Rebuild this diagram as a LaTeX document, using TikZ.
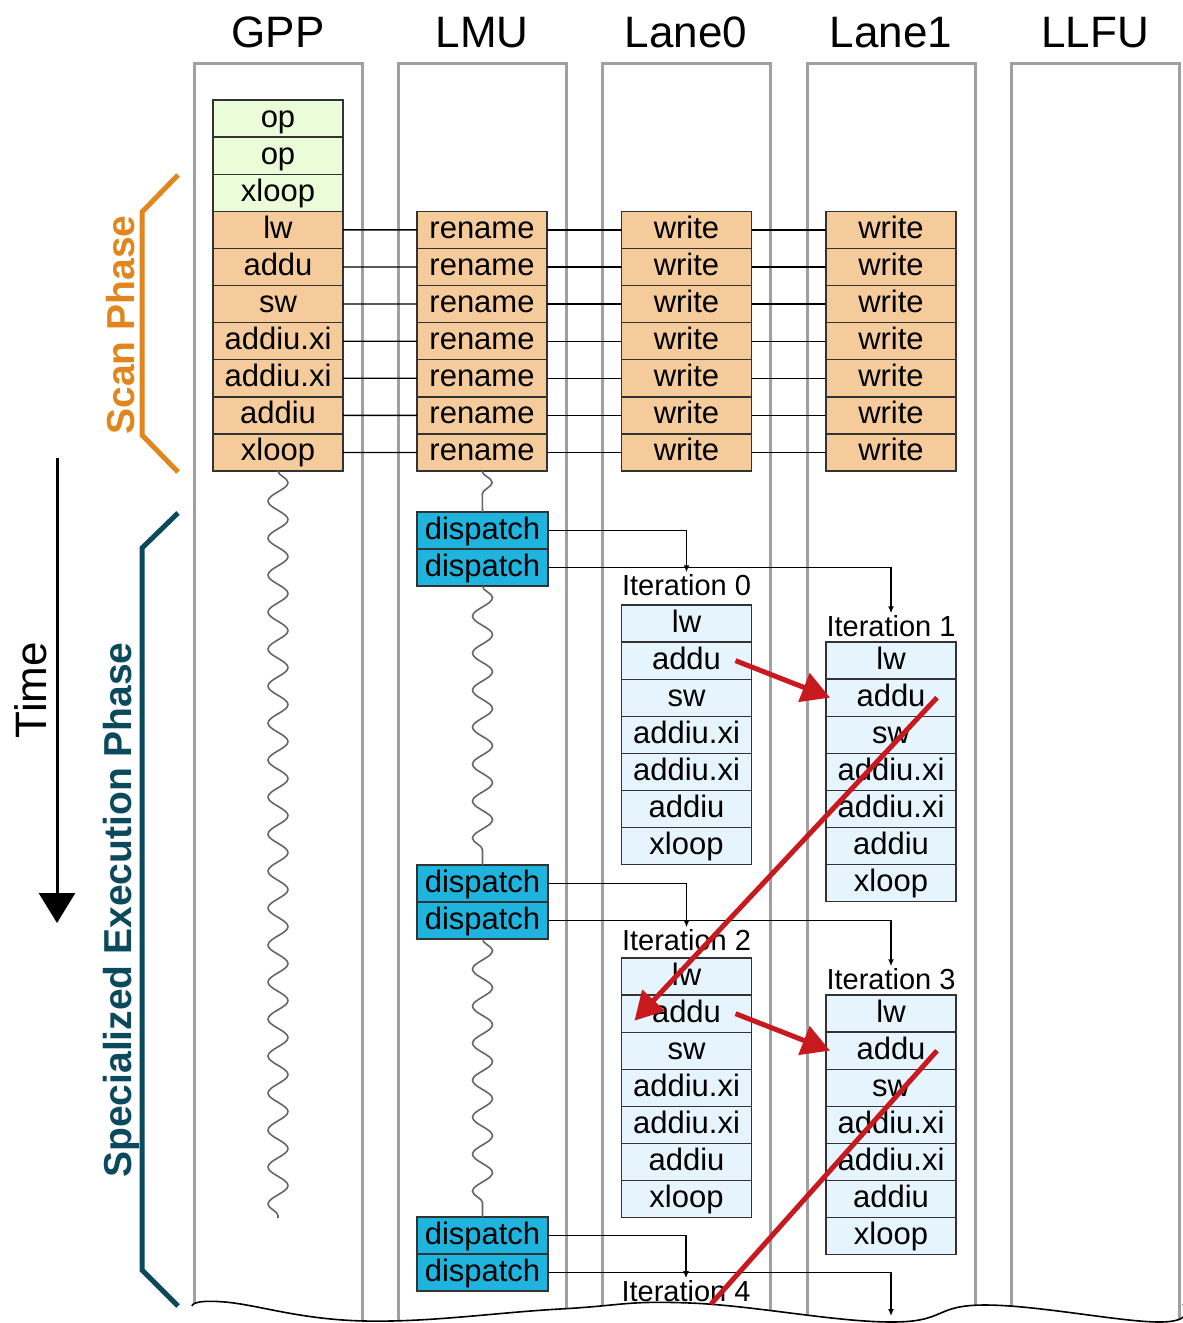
\documentclass[tikz,border=0pt]{standalone}
\usepackage{fontspec}
\setmainfont{Liberation Sans}
\usepackage{xcolor}
\usepackage{tikz}
\usetikzlibrary{positioning,arrows.meta,decorations.pathmorphing}
\definecolor{scanorange}{HTML}{E0861C}
\definecolor{execteal}{HTML}{0B4A5C}
\definecolor{gppgreen}{HTML}{EBFCD8}
\definecolor{scanfill}{HTML}{F5CB9B}
\definecolor{iterfill}{HTML}{E6F4FE}
\definecolor{dispfill}{HTML}{1FB4DE}
\definecolor{depred}{HTML}{C8191E}
\definecolor{lanegray}{HTML}{A0A0A0}

\newcommand{\slotfont}{\fontsize{31}{36}\selectfont}
\newcommand{\headfont}{\fontsize{44}{50}\selectfont}
\newcommand{\iterfont}{\fontsize{29}{34}\selectfont}
\newcommand{\phasefont}{\fontsize{39}{46}\selectfont\bfseries}

\tikzset{
  lane/.style={draw=lanegray,line width=3pt},
  slot/.style={draw=black!80,line width=1.4pt,minimum width=130pt,minimum height=37.1pt,
    inner sep=0pt,outer sep=0pt,text height=23pt,text depth=6pt,font=\slotfont},
  gppslot/.style={slot,fill=gppgreen},
  scanslot/.style={slot,fill=scanfill},
  iterslot/.style={slot,fill=iterfill},
  dispslot/.style={slot,fill=dispfill,minimum width=131pt},
  header/.style={font=\headfont,anchor=base},
  iterlabel/.style={font=\iterfont,inner sep=2pt},
  link/.style={line width=1.3pt},
  sendarrow/.style={line width=1.4pt,-{Latex[length=7pt,width=6pt]}},
  deparrow/.style={draw=depred,line width=5pt,-{Triangle[length=28pt,width=30pt]}},
  depline/.style={draw=depred,line width=5pt},
  wavy/.style={draw=black!60,line width=1.6pt,decorate,
    decoration={snake,segment length=37pt,amplitude=10pt}},
  phasebrace/.style={line width=5pt,line join=miter},
}

\begin{document}
\begin{tikzpicture}[x=1pt,y=-1pt]
  \useasboundingbox (0,0) rectangle (1183,1323);

  % lanes and headers
  \foreach \lx/\lname [count=\k] in {194/GPP,398/LMU,602/Lane0,807/Lane1,1011/LLFU}{
    \draw[lane] (\lx,1323) -- (\lx,63) -- ++(168,0) -- ++(0,1260);
    \node[header] (head\k) at (\lx+84,47) {\lname};
  }

  % cut-off edge at the bottom
  \fill[white] plot[smooth,tension=0.7] coordinates {(192,1306) (225,1302) (365,1321) (560,1309)
    (690,1303) (890,1322) (985,1305) (1160,1322) (1183,1304)} -- (1183,1340) -- (192,1340) -- cycle;
  \draw[line width=1.6pt] plot[smooth,tension=0.7] coordinates {(192,1306) (225,1302) (365,1321)
    (560,1309) (690,1303) (890,1322) (985,1305) (1160,1322) (1183,1304)};

  % GPP instruction stream
  \node[gppslot] (g1) at (278,118.55) {op};
  \node[gppslot,below=0pt of g1] (g2) {op};
  \node[gppslot,below=0pt of g2] (g3) {xloop};

  % scan phase
  \foreach \t [count=\i] in {lw,addu,sw,addiu.xi,addiu.xi,addiu,xloop}{
    \pgfmathtruncatemacro{\prev}{\i+2}
    \pgfmathtruncatemacro{\cur}{\i+3}
    \node[scanslot,below=0pt of g\prev] (g\cur) {\t};
    \node[scanslot] (rn\i) at (482,{192.75+37.1*\i}) {rename};
    \node[scanslot] (wa\i) at (686.5,{192.75+37.1*\i}) {write};
    \node[scanslot] (wb\i) at (891,{192.75+37.1*\i}) {write};
    \draw[link] (g\cur.east) -- (rn\i.west);
    \draw[link] (rn\i.east) -- (wa\i.west);
    \draw[link] (wa\i.east) -- (wb\i.west);
  }

  % LMU dispatches
  \foreach \p/\ty in {1/530.5,2/883.5,3/1235.5}{
    \node[dispslot] (dA\p) at (482.5,\ty) {dispatch};
    \node[dispslot,below=0pt of dA\p] (dB\p) {dispatch};
  }

  % iterations on the lanes
  \foreach \n/\bx/\by/\gap in {0/686.5/605/7,1/891/642/3,2/686.5/958/5,3/891/995/3}{
    \foreach \t [count=\i] in {lw,addu,sw,addiu.xi,addiu.xi,addiu,xloop}
      \node[iterslot] (it\n-\i) at (\bx,{\by+18.55+37.1*(\i-1)}) {\t};
    \node[iterlabel,above=\gap pt of it\n-1] (lab\n) {Iteration \n};
  }
  \node[iterlabel] (lab4) at (686,1291) {Iteration 4};
  \coordinate (lab5) at (891,1316);

  % idle time
  \coordinate (gppend) at (278,1218);
  \draw[wavy] (g10.south) -- (gppend);
  \draw[wavy] (rn7.south) -- (dA1.north);
  \draw[wavy] (dB1.south) -- (dA2.north);
  \draw[wavy] (dB2.south) -- (dA3.north);

  % dispatch to lanes
  \draw[sendarrow] (dA1.east) -| (lab0.north);
  \draw[sendarrow] (dB1.east) -| (lab1.north);
  \draw[sendarrow] (dA2.east) -| (lab2.north);
  \draw[sendarrow] (dB2.east) -| (lab3.north);
  \draw[sendarrow] (dA3.east) -| (lab4.north);
  \draw[sendarrow] (dB3.east) -| (lab5);

  % cross-iteration dependences
  \draw[deparrow] ([xshift=-16pt]it0-2.east) -- ([xshift=4pt]it1-2.west);
  \draw[deparrow] ([xshift=-19pt]it1-2.east) -- ([xshift=13pt,yshift=-7pt]it2-2.west);
  \draw[deparrow] ([xshift=-16pt]it2-2.east) -- ([xshift=4pt]it3-2.west);
  \coordinate (cut4) at (711,1304);
  \draw[depline] ([xshift=-19pt]it3-2.east) -- (cut4);

  % phases
  \draw[phasebrace,scanorange] (178,175) -- (142,212) -- (142,435) -- (178,472);
  \node[rotate=90,font=\phasefont,text=scanorange] (scan) at (121,325) {Scan Phase};
  \draw[phasebrace,execteal] (178,513) -- (142,548) -- (142,1270) -- (178,1306);
  \node[rotate=90,font=\phasefont,text=execteal] (exec) at (121,910) {Specialized Execution Phase};

  % time axis
  \coordinate (tstart) at (57,458);
  \coordinate (tend) at (57,923);
  \draw[line width=3pt,-{Triangle[length=30pt,width=36pt]}] (tstart) -- (tend);
  \node[rotate=90,font=\fontsize{44}{50}\selectfont] (time) at (31,690) {Time};
\end{tikzpicture}
\end{document}
